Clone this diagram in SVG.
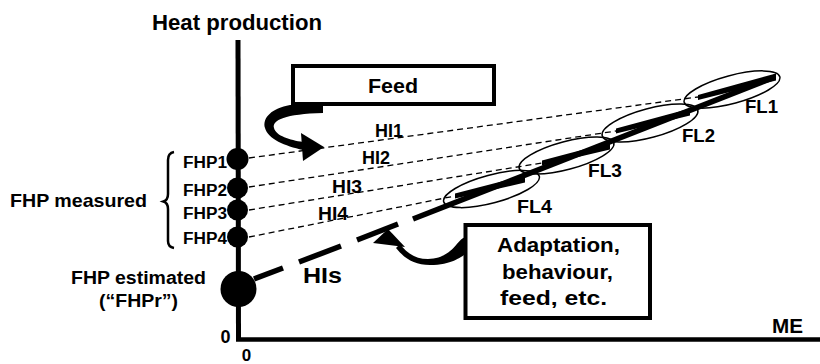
<svg xmlns="http://www.w3.org/2000/svg" width="820" height="364" viewBox="0 0 820 364">
<style>
text{font-family:"Liberation Sans",Arial,sans-serif;font-weight:bold;fill:#000}
.box{fill:#fff;stroke:#000;stroke-width:4}
.hi{stroke:#000;stroke-width:1.3;stroke-dasharray:6 4;fill:none}
.ell{fill:none;stroke:#000;stroke-width:1.5}
.thick{stroke:#000;stroke-width:5.5;fill:none}
</style>
<rect width="820" height="364" fill="#fff"/>
<g id="axes">
<line x1="238" y1="40" x2="238.5" y2="339.5" stroke="#000" stroke-width="5"/>
<line x1="236" y1="339.5" x2="820" y2="339.5" stroke="#000" stroke-width="4.5"/>
<text x="237" y="30" font-size="22" text-anchor="middle" textLength="170" lengthAdjust="spacingAndGlyphs">Heat production</text>
<text x="225.5" y="343" font-size="18" text-anchor="middle">0</text>
<text x="246.5" y="361" font-size="17" text-anchor="middle">0</text>
<text x="772" y="333" font-size="21" textLength="31" lengthAdjust="spacingAndGlyphs">ME</text>
</g>
<g id="connectors">
<line class="hi" x1="249" y1="158" x2="698" y2="97"/>
<line class="hi" x1="249" y1="187" x2="616" y2="131"/>
<line class="hi" x1="249" y1="210" x2="542" y2="163"/>
<line class="hi" x1="249" y1="237" x2="455" y2="196"/>
<g class="thick">
<line x1="254" y1="279" x2="283" y2="268"/>
<line x1="299" y1="262" x2="341" y2="246"/>
<line x1="357" y1="240" x2="398" y2="224"/>
<line x1="413" y1="219" x2="775" y2="77"/>
</g>
<polygon points="455,193.5 525,175.5 525,182.5 455,198.5"/>
<polygon points="542,160.5 610,142.5 610,149.5 542,165.5"/>
<polygon points="616,128.5 690,108.5 690,115.5 616,133.5"/>
<polygon points="698,95 776,73.5 776,80.5 698,100"/>
<path d="M323 104 L290 105 C272 108 262 118 265 128 C268 139 285 146 303 150 L303 142 C290 140 276 136 274 128 C272 120 285 114 323 113 Z"/>
<polygon points="301,133 303,161 324,147"/>
<path d="M466 237 C456 239 454 258 428 259 C414 259 406 252 400 244 L396 248 C404 258 414 265 430 265 C452 265 460 257 466 254 Z"/>
<polygon points="373,243 388,229 405,247"/>
<path d="M174 152 Q168 153 168 160 L168 194 Q168 200 163.5 201.5 Q168 203 168 209 L168 241 Q168 247 174 248" fill="none" stroke="#000" stroke-width="2.5"/>
</g>
<g id="feed">
<rect class="box" x="293" y="66" width="201" height="38"/>
<text x="393" y="93" font-size="20" text-anchor="middle" textLength="50" lengthAdjust="spacingAndGlyphs">Feed</text>
</g>
<g id="adaptation">
<rect class="box" x="465.5" y="225" width="184.5" height="93"/>
<text x="558.5" y="251.5" font-size="21" text-anchor="middle" textLength="123" lengthAdjust="spacingAndGlyphs">Adaptation,</text>
<text x="557.5" y="278.5" font-size="21" text-anchor="middle" textLength="111" lengthAdjust="spacingAndGlyphs">behaviour,</text>
<text x="553.5" y="304.5" font-size="21" text-anchor="middle" textLength="107" lengthAdjust="spacingAndGlyphs">feed, etc.</text>
</g>
<g id="fhp1">
<circle cx="237.5" cy="159" r="11"/>
<text x="183" y="168" font-size="16" textLength="44" lengthAdjust="spacingAndGlyphs">FHP1</text>
</g>
<g id="fhp2">
<circle cx="237.5" cy="188" r="10.5"/>
<text x="183" y="196" font-size="16" textLength="44" lengthAdjust="spacingAndGlyphs">FHP2</text>
</g>
<g id="fhp3">
<circle cx="237.5" cy="210" r="10.5"/>
<text x="183" y="219" font-size="16" textLength="44" lengthAdjust="spacingAndGlyphs">FHP3</text>
</g>
<g id="fhp4">
<circle cx="237.5" cy="237" r="10.5"/>
<text x="183" y="244" font-size="16" textLength="44" lengthAdjust="spacingAndGlyphs">FHP4</text>
</g>
<g id="fhp-measured">
<text x="10" y="206.5" font-size="18.5" textLength="137" lengthAdjust="spacingAndGlyphs">FHP measured</text>
</g>
<g id="fhp-estimated">
<circle cx="238.5" cy="289" r="18"/>
<text x="138.5" y="284.3" font-size="18" text-anchor="middle" textLength="135" lengthAdjust="spacingAndGlyphs">FHP estimated</text>
<text x="138.5" y="307" font-size="18" text-anchor="middle" textLength="79" lengthAdjust="spacingAndGlyphs">(“FHPr”)</text>
</g>
<g id="his">
<text x="303" y="283" font-size="22" textLength="39" lengthAdjust="spacingAndGlyphs">HIs</text>
</g>
<g id="hi-labels">
<text x="375" y="137" font-size="18" textLength="28" lengthAdjust="spacingAndGlyphs">HI1</text>
<text x="362" y="164" font-size="18" textLength="28" lengthAdjust="spacingAndGlyphs">HI2</text>
<text x="332" y="192.5" font-size="18" textLength="30" lengthAdjust="spacingAndGlyphs">HI3</text>
<text x="318" y="220" font-size="18" textLength="30" lengthAdjust="spacingAndGlyphs">HI4</text>
</g>
<g id="fl1">
<ellipse class="ell" cx="732" cy="89.5" rx="49.5" ry="14" transform="rotate(-15 732 89.5)"/>
<text x="745" y="113" font-size="18" textLength="33" lengthAdjust="spacingAndGlyphs">FL1</text>
</g>
<g id="fl2">
<ellipse class="ell" cx="650" cy="123" rx="49.5" ry="14.5" transform="rotate(-15 650 123)"/>
<text x="682" y="142" font-size="18" textLength="33" lengthAdjust="spacingAndGlyphs">FL2</text>
</g>
<g id="fl3">
<ellipse class="ell" cx="566.5" cy="155.5" rx="49" ry="14" transform="rotate(-15 566.5 155.5)"/>
<text x="588" y="177" font-size="18" textLength="34" lengthAdjust="spacingAndGlyphs">FL3</text>
</g>
<g id="fl4">
<ellipse class="ell" cx="491.5" cy="189" rx="49.5" ry="14" transform="rotate(-15 491.5 189)"/>
<text x="517" y="213" font-size="18" textLength="35" lengthAdjust="spacingAndGlyphs">FL4</text>
</g>
</svg>
